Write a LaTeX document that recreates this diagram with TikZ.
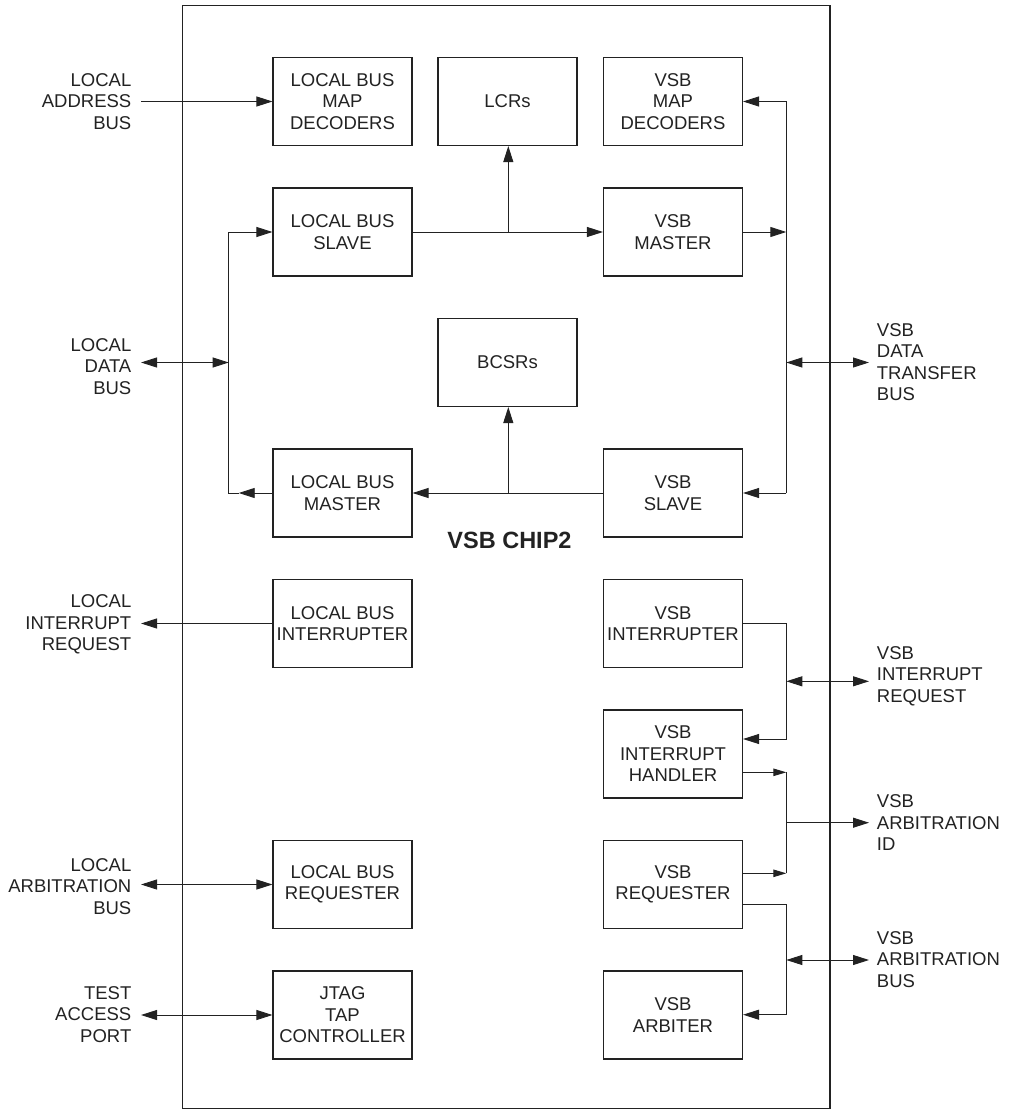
\documentclass[tikz,border=0pt]{standalone}
\usepackage{fontspec}
\setmainfont{Liberation Sans}
\usetikzlibrary{arrows.meta}
\definecolor{ink}{HTML}{222222}
\tikzset{
  txt/.style={font=\fontsize{18.5}{21.5}\selectfont, text=ink},
  blk/.style={txt, draw=ink, line width=1.1pt, minimum width=139pt, minimum height=88pt, inner sep=0pt, align=center},
  llab/.style={txt, anchor=east, align=right, inner xsep=9.5pt, inner ysep=0pt},
  rlab/.style={txt, anchor=west, align=left, inner xsep=7.7pt, inner ysep=0pt},
  conn/.style={draw=ink, line width=0.9pt},
  big/.tip={Triangle[length=16pt,width=10pt]},
  sm/.tip={Triangle[length=13pt,width=7.5pt]},
}
\begin{document}
\begin{tikzpicture}[x=1pt,y=-1pt]
\useasboundingbox (0,0) rectangle (1009,1110);
% chip outline
\node[draw=ink, line width=1.2pt, minimum width=647.5pt, minimum height=1103pt, inner sep=0pt] (chipbox) at (506.25,557.2) {};
\node[font=\bfseries\fontsize{23.5}{26}\selectfont, text=ink, inner sep=0pt] (chip) at (509.5,540) {VSB CHIP2};
% blocks
\node[blk] (lbmd) at (342.5,101.5) {LOCAL BUS\\MAP\\DECODERS};
\node[blk] (lcr)  at (507.5,101.5) {LCRs};
\node[blk] (vmd)  at (673,101.5) {VSB\\MAP\\DECODERS};
\node[blk] (lbs)  at (342.5,232) {LOCAL BUS\\SLAVE};
\node[blk] (vm)   at (673,232) {VSB\\MASTER};
\node[blk] (bcsr) at (507.5,362.5) {BCSRs};
\node[blk] (lbm)  at (342.5,493) {LOCAL BUS\\MASTER};
\node[blk] (vs)   at (673,493) {VSB\\SLAVE};
\node[blk] (lbi)  at (342.5,623.5) {LOCAL BUS\\INTERRUPTER};
\node[blk] (vi)   at (673,623.5) {VSB\\INTERRUPTER};
\node[blk] (vih)  at (673,754) {VSB\\INTERRUPT\\HANDLER};
\node[blk] (lbrq) at (342.5,884.5) {LOCAL BUS\\REQUESTER};
\node[blk] (vrq)  at (673,884.5) {VSB\\REQUESTER};
\node[blk] (jtag) at (342.5,1015) {JTAG\\TAP\\CONTROLLER};
\node[blk] (varb) at (673,1015) {VSB\\ARBITER};
% external labels
\node[llab] (ladd) at (141,101.5) {LOCAL\\ADDRESS\\BUS};
\node[llab] (ldb)  at (141,366.5) {LOCAL\\DATA\\BUS};
\node[llab] (lir)  at (141,624.5) {LOCAL\\INTERRUPT\\REQUEST};
\node[llab] (larb) at (141,886.5) {LOCAL\\ARBITRATION\\BUS};
\node[llab] (ltap) at (141,1014.5) {TEST\\ACCESS\\PORT};
\node[rlab] (vdtb) at (869,362) {VSB\\DATA\\TRANSFER\\BUS};
\node[rlab] (vir)  at (869,676) {VSB\\INTERRUPT\\REQUEST};
\node[rlab] (vaid) at (869,823) {VSB\\ARBITRATION\\ID};
\node[rlab] (vab)  at (869,959.5) {VSB\\ARBITRATION\\BUS};
% bus coordinates
\coordinate (lbt) at (228.7,232);
\coordinate (lbb) at (228.7,493);
\coordinate (lbbt) at (238.7,493);
\coordinate (lbd) at (228.7,362.5);
\coordinate (rbt) at (786.3,101.5);
\coordinate (rbm) at (786.3,232);
\coordinate (rbd) at (786.3,362.5);
\coordinate (rbb) at (786.3,493);
\coordinate (jl) at (508.3,232);
\coordinate (jb) at (508.3,493);
\coordinate (ri1) at (786.3,623.5);
\coordinate (ri2) at (786.3,739);
\coordinate (rid) at (786.3,681.3);
\coordinate (ra1) at (786.3,772.3);
\coordinate (ra2) at (786.3,873.3);
\coordinate (rai) at (786.3,822.7);
\coordinate (rb1) at (786.3,904);
\coordinate (rb2) at (786.3,1014.7);
\coordinate (rbd2) at (786.3,960);
% connectors
\draw[conn,-big] (ladd.east) -- (lbmd.west);
\draw[conn,big-big] (ldb.east |- lbd) -- (lbd);
\draw[conn] (lbbt) -- (lbb) -- (lbt);
\draw[conn,-big] (lbt) -- (lbs.west);
\draw[conn,-big] (lbm.west) -- (lbbt);
\draw[conn,-big] (lbs.east) -- (vm.west);
\draw[conn,-big] (jl) -- (jl |- lcr.south);
\draw[conn,-big] (vm.east) -- (rbm);
\draw[conn] (rbt) -- (rbb);
\draw[conn,-big] (rbt) -- (vmd.east);
\draw[conn,-big] (rbb) -- (vs.east);
\draw[conn,big-big] (rbd) -- (vdtb.west |- rbd);
\draw[conn,-big] (vs.west) -- (lbm.east);
\draw[conn,-big] (jb) -- (jb |- bcsr.south);
\draw[conn,-big] (lbi.west) -- (lir.east |- lbi.west);
\draw[conn,-big] (vi.east) -- (ri1) -- (ri2) -- (ri2 -| vih.east);
\draw[conn,big-big] (rid) -- (vir.west |- rid);
\draw[conn,-sm] (vih.east |- ra1) -- (ra1);
\draw[conn] (ra1) -- (ra2);
\draw[conn,-sm] (vrq.east |- ra2) -- (ra2);
\draw[conn,-big] (rai) -- (vaid.west |- rai);
\draw[conn,-big] (vrq.east |- rb1) -- (rb1) -- (rb2) -- (rb2 -| varb.east);
\draw[conn,big-big] (rbd2) -- (vab.west |- rbd2);
\draw[conn,big-big] (larb.east |- lbrq.west) -- (lbrq.west);
\draw[conn,big-big] (ltap.east |- jtag.west) -- (jtag.west);
\end{tikzpicture}
\end{document}
